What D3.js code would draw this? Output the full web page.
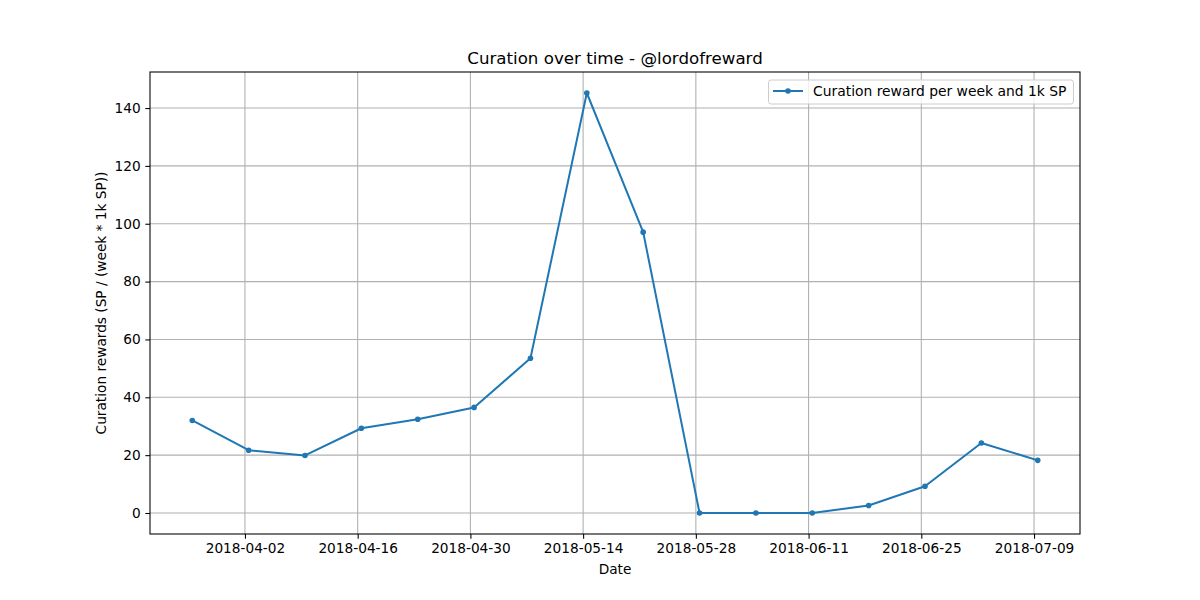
<!DOCTYPE html>
<html><head><meta charset="utf-8">
<script src="https://cdn.jsdelivr.net/npm/d3@7"></script>
<style>body{margin:0;background:#fff}svg{display:block;font-family:"DejaVu Sans",sans-serif}</style>
</head><body>
<svg id="c" width="1200" height="600"></svg>
<script>
const dates = ["2018-03-26T11:00","2018-04-02T11:00","2018-04-09T11:00","2018-04-16T11:00","2018-04-23T11:00","2018-04-30T11:00","2018-05-07T11:00","2018-05-14T11:00","2018-05-21T11:00","2018-05-28T11:00","2018-06-04T11:00","2018-06-11T11:00","2018-06-18T11:00","2018-06-25T11:00","2018-07-02T11:00","2018-07-09T11:00"];
const values = [32.0,21.7,19.9,29.3,32.4,36.5,53.5,145.2,97.1,0,0,0,2.6,9.25,24.2,18.2];
const xTickLabels = ["2018-04-02","2018-04-16","2018-04-30","2018-05-14","2018-05-28","2018-06-11","2018-06-25","2018-07-09"];
const yTicks = [0,20,40,60,80,100,120,140];
const title = "Curation over time - @lordofreward";
const xLabel = "Date";
const yLabel = "Curation rewards (SP / (week * 1k SP))";
const seriesName = "Curation reward per week and 1k SP";

const parse = d3.timeParse("%Y-%m-%dT%H:%M");
const parseD = d3.timeParse("%Y-%m-%d");
const data = dates.map((d,i)=>({x:parse(d), y:values[i]}));

const L=150,R=1080,T=72,B=534;
const FS="13.7px";
const svg = d3.select("#c");
const color="#1f77b4";

const xe = d3.extent(data,d=>d.x);
const xs = xe[1]-xe[0];
const x = d3.scaleTime().domain([new Date(+xe[0]-0.05*xs), new Date(+xe[1]+0.05*xs)]).range([L,R]);
const ye = d3.extent(data,d=>d.y);
const ys = ye[1]-ye[0];
const y = d3.scaleLinear().domain([ye[0]-0.05*ys, ye[1]+0.05*ys]).range([B,T]);

const xt = xTickLabels.map(parseD);
// grid
svg.append("g").selectAll("line").data(xt).join("line")
  .attr("x1",d=>x(d)).attr("x2",d=>x(d)).attr("y1",T).attr("y2",B)
  .attr("stroke","#b0b0b0").attr("stroke-width",1.07);
svg.append("g").selectAll("line").data(yTicks).join("line")
  .attr("x1",L).attr("x2",R).attr("y1",d=>y(d)).attr("y2",d=>y(d))
  .attr("stroke","#b0b0b0").attr("stroke-width",1.07);

// axes
const xAxis = d3.axisBottom(x).tickValues(xt).tickFormat(d3.timeFormat("%Y-%m-%d")).tickSize(4.67).tickPadding(4.67);
const gx = svg.append("g").attr("transform",`translate(0,${B})`).call(xAxis);
const yAxis = d3.axisLeft(y).tickValues(yTicks).tickSize(4.67).tickPadding(4.67);
const gy = svg.append("g").attr("transform",`translate(${L},0)`).call(yAxis);
[gx,gy].forEach(g=>{
  g.select(".domain").remove();
  g.selectAll(".tick line").attr("stroke","#000").attr("stroke-width",1.07);
  g.selectAll(".tick text").attr("font-family","DejaVu Sans").attr("font-size",FS).attr("fill","#000");
});

// frame
svg.append("rect").attr("x",L).attr("y",T).attr("width",R-L).attr("height",B-T)
  .attr("fill","none").attr("stroke","#000").attr("stroke-width",1.07);

// line
svg.append("path").datum(data)
  .attr("d",d3.line().x(d=>x(d.x)).y(d=>y(d.y)))
  .attr("fill","none").attr("stroke",color).attr("stroke-width",2).attr("stroke-linejoin","round").attr("stroke-linecap","square");
svg.append("g").selectAll("circle").data(data).join("circle")
  .attr("cx",d=>x(d.x)).attr("cy",d=>y(d.y)).attr("r",2.8).attr("fill",color);

// texts
svg.append("text").attr("x",(L+R)/2).attr("y",T-8).attr("text-anchor","middle")
  .attr("font-size","16.67px").text(title);
svg.append("text").attr("x",(L+R)/2).attr("y",574).attr("text-anchor","middle")
  .attr("font-size",FS).text(xLabel);
svg.append("text").attr("transform",`translate(106,${(T+B)/2}) rotate(-90)`).attr("text-anchor","middle")
  .attr("font-size",FS).text(yLabel);

// legend
const lg = svg.append("g");
const lt = lg.append("text").attr("x",813).attr("y",96).attr("font-size","13.89px").text(seriesName);
const tw = lt.node().getComputedTextLength();
lg.insert("rect","text").attr("x",768.5).attr("y",80).attr("width",813+tw+7-768.5).attr("height",24)
  .attr("rx",2.5).attr("fill","#fff").attr("fill-opacity",0.8).attr("stroke","#cccccc").attr("stroke-width",1);
lg.append("line").attr("x1",773).attr("x2",803).attr("y1",91).attr("y2",91).attr("stroke",color).attr("stroke-width",2);
lg.append("circle").attr("cx",788).attr("cy",91).attr("r",2.8).attr("fill",color);
</script>
</body></html>
